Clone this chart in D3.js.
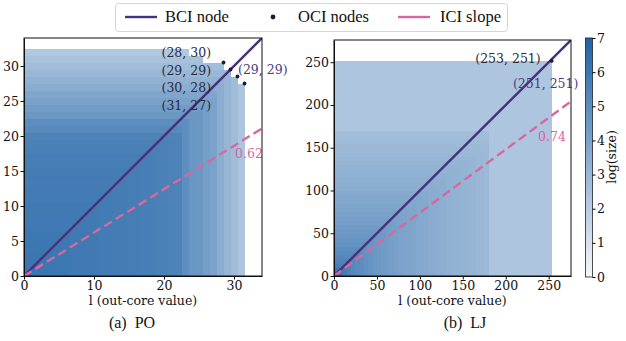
<!DOCTYPE html>
<html><head><meta charset="utf-8">
<script src="https://cdn.jsdelivr.net/npm/d3@7"></script>
<style>body{margin:0;background:#fff}svg{display:block}svg text.s{font-family:"DejaVu Serif",serif}</style>
</head><body>
<script>
// ---------- data ----------
// Panel (a) PO: log(size) profile per out-core value l (at k=0) and per in-core value k (at l=0)
const poColVal = [6.2,6.15,6.1,6.1,6.05,6.0,6.0,5.95,5.95,5.9,5.9,5.85,5.85,5.8,5.8,5.75,5.75,5.7,5.7,5.65,5.6,5.55,5.5,4.95,4.6,4.55,4.2,4.0,3.5,3.1,2.8,2.4];
const poRowVal = [6.2,6.15,6.1,6.1,6.05,6.0,6.0,5.95,5.95,5.9,5.9,5.85,5.85,5.8,5.85,5.8,5.75,5.7,5.65,5.6,5.5,5.2,5.0,4.55,4.3,4.05,3.85,3.5,3.25,3.0,2.75,2.5,2.2];
const poMaxK = [32,32,32,32,32,32,32,32,32,32,32,32,32,32,32,32,32,32,32,32,32,32,32,32,31,31,30,30,30,29,28,27];
const poOCI = [[28,30],[29,29],[30,28],[31,27]];
const poBCI = [29,29];
const poSlope = 0.62;
// Panel (b) LJ: 5-unit bins
const ljColVal = [6.5,6.0,5.7,5.45,5.25,5.1,4.95,4.8,4.68,4.56,4.45,4.35,4.26,4.18,4.1,4.02,3.95,3.88,3.82,3.76,3.7,3.64,3.58,3.53,3.48,3.43,3.38,3.33,3.28,3.23,3.18,3.13,3.08,3.03,2.98,2.93,2.37,2.37,2.37,2.37,2.37,2.37,2.37,2.37,2.37,2.37,2.37,2.37,2.37,2.37,2.37];
const ljRowVal = [6.5,6.0,5.7,5.45,5.25,5.1,4.95,4.8,4.68,4.56,4.45,4.35,4.25,4.15,4.06,3.97,3.88,3.8,3.72,3.64,3.56,3.49,3.42,3.35,3.28,3.21,3.15,3.09,3.03,2.97,2.91,2.85,2.8,2.75,2.37,2.37,2.37,2.37,2.37,2.37,2.37,2.37,2.37,2.37,2.37,2.37,2.37,2.37,2.37,2.37,2.37];
const ljOCI = [[253,251]];
const ljBCI = [251,251];
const ljSlope = 0.74;
const poTicks = [0,5,10,15,20,25,30];
const poXTicks = [0,10,20,30];
const ljTicks = [0,50,100,150,200,250];
const cbTicks = [0,1,2,3,4,5,6,7];
const legendLabels = ["BCI node","OCI nodes","ICI slope"];
const captions = ["(a)\u2002PO","(b)\u2002LJ"];
const xLabel = "l (out-core value)";
const cbLabel = "log(size)";

// ---------- styles ----------
const W=626,H=341;
const capFont = "'Liberation Serif', 'Times New Roman', serif";
const cBCI="#45327a", cICI="#d9679f", cOCI="#1c1c38";
const cmap = d3.scaleLinear().domain([0,7]).range(["#f5f7fa","#2063a6"]).interpolate(d3.interpolateRgb);

const svg = d3.select("body").append("svg").attr("width",W).attr("height",H);
svg.append("rect").attr("width",W).attr("height",H).attr("fill","#fff");

function panel(opt){
  const x = d3.scaleLinear().domain([0,opt.D]).range([opt.x0,opt.x1]);
  const y = d3.scaleLinear().domain([0,opt.D]).range([opt.y1,opt.y0]);
  const g = svg.append("g");
  const cid = "clip"+opt.id;
  svg.append("clipPath").attr("id",cid).append("rect")
    .attr("x",opt.x0).attr("y",opt.y0).attr("width",opt.x1-opt.x0).attr("height",opt.y1-opt.y0);
  const hm = g.append("g").attr("clip-path",`url(#${cid})`).attr("shape-rendering","crispEdges");
  const cells=[];
  opt.cols.forEach((cv,i)=>{
    const [xl,xh] = opt.xEdge(i);
    opt.rows.forEach((rv,j)=>{
      if(opt.maxK && j>opt.maxK[i]) return;
      const [yl,yh] = opt.yEdge(j);
      cells.push({xl,xh,yl,yh,v:Math.min(cv,rv)});
    });
  });
  hm.selectAll("rect").data(cells).join("rect")
    .attr("x",d=>x(Math.max(0,d.xl)))
    .attr("y",d=>y(d.yh))
    .attr("width",d=>x(d.xh)-x(Math.max(0,d.xl))+0.5)
    .attr("height",d=>y(Math.max(0,d.yl))-y(d.yh)+0.5)
    .attr("fill",d=>cmap(d.v));
  const lg = g.append("g").attr("clip-path",`url(#${cid})`);
  lg.append("line").attr("x1",x(0)).attr("y1",y(0)).attr("x2",x(opt.D)).attr("y2",y(opt.D))
    .attr("stroke",cBCI).attr("stroke-width",2.4);
  lg.append("line").attr("x1",x(0)).attr("y1",y(0)).attr("x2",x(opt.D)).attr("y2",y(opt.slope*opt.D))
    .attr("stroke",cICI).attr("stroke-width",2.4).attr("stroke-dasharray","9,4.5");
  g.selectAll("circle.oci").data(opt.oci).join("circle").attr("class","oci")
    .attr("cx",d=>x(d[0]+0.5)).attr("cy",d=>y(d[1]+0.5)).attr("r",1.9).attr("fill",cOCI);
  opt.oci.forEach((d,i)=>{
    const p = opt.ociLab(d,i,x,y);
    g.append("text").attr("class","s").attr("x",p[0]).attr("y",p[1]).attr("text-anchor",p[2])
      .attr("dy","0.35em").attr("font-size",12.5).attr("fill","#2a2a40")
      .text(`(${d[0]}, ${d[1]})`);
  });
  const bp = opt.bciLab(x,y);
  g.append("text").attr("class","s").attr("x",bp[0]).attr("y",bp[1]).attr("dy","0.35em")
    .attr("font-size",12.5).attr("fill","#4a3a80").text(`(${opt.bci[0]}, ${opt.bci[1]})`);
  const sp = opt.slopeLab(x,y);
  g.append("text").attr("class","s").attr("x",sp[0]).attr("y",sp[1]).attr("dy","0.35em")
    .attr("font-size",12.5).attr("fill",cICI).text(opt.slope.toFixed(2));
  const ax = g.append("g").attr("transform",`translate(0,${opt.y1})`)
    .call(d3.axisBottom(x).tickValues(opt.xt).tickSize(3.5).tickSizeOuter(0).tickPadding(1.5).tickFormat(d3.format("d")));
  const ay = g.append("g").attr("transform",`translate(${opt.x0},0)`)
    .call(d3.axisLeft(y).tickValues(opt.yt).tickSize(3.5).tickSizeOuter(0).tickPadding(1.5).tickFormat(d3.format("d")));
  [ax,ay].forEach(a=>{a.attr("font-family",null);
    a.selectAll("text").attr("class","s").attr("font-size",12.5).attr("fill","#111");
    a.selectAll("line").attr("stroke","#111"); a.select(".domain").attr("stroke","#111");});
  g.append("rect").attr("x",opt.x0).attr("y",opt.y0).attr("width",opt.x1-opt.x0).attr("height",opt.y1-opt.y0)
    .attr("fill","none").attr("stroke","#111").attr("stroke-width",1);
  g.append("text").attr("class","s").attr("x",(opt.x0+opt.x1)/2).attr("y",opt.y1+29).attr("text-anchor","middle")
    .attr("font-size",12.5).attr("fill","#111").text(xLabel);
  g.append("text").attr("x",opt.capX).attr("y",328).attr("text-anchor","middle")
    .attr("font-family",capFont).attr("font-size",16).attr("fill","#111").text(opt.caption);
}

panel({id:"a",D:34,x0:24,x1:262,y0:38,y1:276,cols:poColVal,rows:poRowVal,maxK:poMaxK,
  xEdge:i=>[i-0.5,i+0.5], yEdge:j=>[j-0.5,j+0.5],
  oci:poOCI,bci:poBCI,slope:poSlope,xt:poXTicks,yt:poTicks,caption:captions[0],capX:132,
  ociLab:(d,i,x,y)=>[x(poOCI[0][0]+0.5)-62, y(poOCI[0][1]+0.5)-9.5+i*17.4,"start"],
  bciLab:(x,y)=>[x(poBCI[0]+0.5)+7.5,y(poBCI[1]+0.5)+0.5],
  slopeLab:(x,y)=>[x(34)-27,y(poSlope*34)+25]});

panel({id:"b",D:276,x0:334,x1:571,y0:40,y1:276,cols:ljColVal,rows:ljRowVal,maxK:null,
  xEdge:i=>[5*i,Math.min(5*i+5,ljOCI[0][0]+0.5)], yEdge:j=>[5*j,Math.min(5*j+5,ljOCI[0][1]+0.5)],
  oci:ljOCI,bci:ljBCI,slope:ljSlope,xt:ljTicks,yt:ljTicks,caption:captions[1],capX:465,
  ociLab:(d,i,x,y)=>[x(d[0]+0.5)-11,y(d[1]+0.5)-2,"end"],
  bciLab:(x,y)=>[x(ljBCI[0]+0.5)-37,y(ljBCI[1]+0.5)+23],
  slopeLab:(x,y)=>[x(276)-33,y(ljSlope*276)+35]});

// colorbar
const cb = svg.append("g");
const cy = d3.scaleLinear().domain([0,7]).range([277,38]);
const grad = svg.append("defs").append("linearGradient").attr("id","cbg")
  .attr("x1",0).attr("y1",1).attr("x2",0).attr("y2",0);
d3.range(0,7.01,0.5).forEach(v=>grad.append("stop").attr("offset",v/7).attr("stop-color",cmap(v)));
cb.append("rect").attr("x",585.5).attr("y",38).attr("width",7).attr("height",239)
  .attr("fill","url(#cbg)").attr("stroke","#222").attr("stroke-width",0.8);
const cax = cb.append("g").attr("transform","translate(592.5,0)")
  .call(d3.axisRight(cy).tickValues(cbTicks).tickSize(3).tickSizeOuter(0).tickPadding(1.5).tickFormat(d3.format("d")));
cax.attr("font-family",null);
cax.select(".domain").remove();
cax.selectAll("text").attr("class","s").attr("font-size",12.5).attr("fill","#111");
cb.append("text").attr("class","s").attr("transform","translate(612,157) rotate(-90)").attr("text-anchor","middle")
  .attr("dy","0.35em").attr("font-size",12.5).attr("fill","#111").text(cbLabel);

// legend
const lg = svg.append("g");
lg.append("rect").attr("x",115.5).attr("y",3.5).attr("width",392).attr("height",28).attr("rx",3)
  .attr("fill","#fff").attr("stroke","#d6d6d6");
lg.append("line").attr("x1",125).attr("x2",157).attr("y1",17).attr("y2",17).attr("stroke",cBCI).attr("stroke-width",2.4);
lg.append("circle").attr("cx",273).attr("cy",17).attr("r",2.4).attr("fill",cOCI);
lg.append("line").attr("x1",398).attr("x2",430).attr("y1",17).attr("y2",17).attr("stroke",cICI).attr("stroke-width",2.4);
[[165,0],[298,1],[440,2]].forEach(([xx,i])=>lg.append("text").attr("x",xx).attr("y",17)
  .attr("dy","0.33em").attr("font-family",capFont).attr("font-size",16.5).attr("fill","#111").text(legendLabels[i]));
</script>
</body></html>
